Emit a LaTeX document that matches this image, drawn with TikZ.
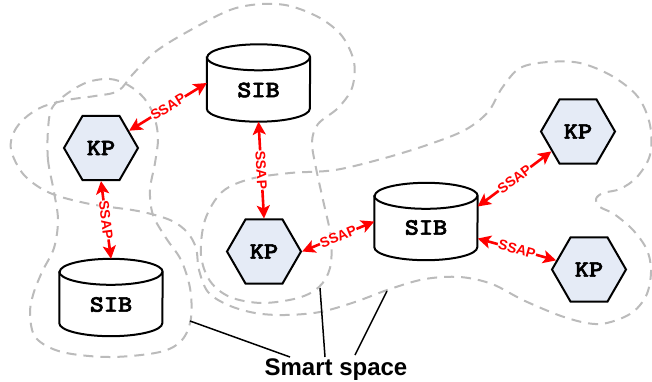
\documentclass[tikz,border=0pt]{standalone}
\usepackage{fontspec}
\newfontfamily\arialfont{Liberation Sans}
\newfontfamily\kpfont{lmmonolt10-bold.otf}[FakeBold=2.5,FakeStretch=1.15]
\usetikzlibrary{shapes.geometric,arrows.meta,calc}
\definecolor{kpfill}{HTML}{E5EBF6}
\definecolor{spacegray}{HTML}{BBBBBB}
\tikzset{
  shapeline/.style={draw=black,line width=2pt},
  kp/.style={regular polygon, regular polygon sides=6, minimum size=74pt, inner sep=0pt,
    draw=black, line width=2pt, fill=kpfill, font=\kpfont\fontsize{23.5}{23.5}\selectfont},
  sib/.style={rectangle, minimum width=103pt, minimum height=77pt, inner sep=0pt},
  sibtext/.style={inner sep=0pt, font=\kpfont\fontsize{23.5}{23.5}\selectfont},
  ssap/.style={red, line width=2.6pt,
    {Stealth[length=13pt,width=13pt,inset=3pt]}-{Stealth[length=13pt,width=13pt,inset=3pt]}},
  ssaplabel/.style={midway, sloped, fill=white, inner sep=0.6pt, text=red,
    font=\arialfont\bfseries\fontsize{14}{14}\selectfont},
  spacecurve/.style={draw=spacegray, line width=2pt, dash pattern=on 10pt off 7pt},
  pointer/.style={draw=black, line width=1.5pt},
}
\newcommand\sibcylinder[1]{%
  \draw[shapeline,fill=white] ($(#1.north west)+(0,13)$) -- ($(#1.south west)+(0,-13)$)
    arc[start angle=180,end angle=360,x radius=51.5pt,y radius=13pt]
    -- ($(#1.north east)+(0,13)$)
    arc[start angle=0,end angle=180,x radius=51.5pt,y radius=13pt] -- cycle;
  \draw[shapeline] ($(#1.north west)+(0,13)$)
    arc[start angle=180,end angle=360,x radius=51.5pt,y radius=13pt];
}
\begin{document}
\begin{tikzpicture}[x=1pt,y=-1pt]
\useasboundingbox (0,0) rectangle (652,381);
% smart space boundaries
\draw[spacecurve] plot[smooth cycle, tension=0.55] coordinates {
  (54,192) (48,160) (48,130) (52,108) (68,93) (88,82) (110,79) (128,85) (144,98)
  (154,116) (158,138) (155,163) (150,190) (153,215) (166,238) (181,260) (190,288)
  (191,318) (182,340) (160,352) (110,357) (62,352) (36,338) (30,315) (33,295)
  (42,272) (54,248) (58,220)};
\draw[spacecurve] plot[smooth cycle, tension=0.55] coordinates {
  (11,150) (14,132) (25,118) (42,107) (67,100) (95,96) (118,91) (133,74) (155,52)
  (187,32) (230,10) (262,4) (290,6) (320,18) (342,36) (354,62) (352,88) (338,108)
  (318,124) (312,142) (316,168) (323,200) (331,238) (330,268) (319,287) (298,298)
  (262,303) (230,297) (210,281) (201,255) (205,220) (222,192) (250,179) (290,173)
  (335,170) (385,158) (430,144) (465,130) (488,112) (502,88) (520,68) (548,62)
  (580,63) (612,76) (638,97) (650,125) (650,155) (637,177) (620,189) (603,193)
  (596,199) (600,207) (614,214) (633,230) (647,250) (651,272) (646,296) (630,314)
  (600,324) (567,318) (525,301) (492,284) (460,277) (425,279) (390,289) (355,302)
  (320,312) (285,315) (255,313) (228,305) (208,292) (199,270) (196,248) (187,232)
  (170,220) (138,211) (90,204) (50,193) (24,175)};
% SIB nodes (cylinders)
\node[sib] (SIB1) at (258.5,83) {};
\node[sib] (SIB2) at (111,297.5) {};
\node[sib] (SIB3) at (426,221.5) {};
\sibcylinder{SIB1}
\sibcylinder{SIB2}
\sibcylinder{SIB3}
\node[sibtext] (SIB1t) at ($(SIB1)+(0,7)$) {SIB};
\node[sibtext] (SIB2t) at ($(SIB2)+(0,7)$) {SIB};
\node[sibtext] (SIB3t) at ($(SIB3)+(0,6)$) {SIB};
% KP nodes
\node[kp] (KP1) at (101,148) {KP};
\node[kp] (KP2) at (264,251.5) {KP};
\node[kp] (KP3) at (578,131.5) {KP};
\node[kp] (KP4) at (589,269.5) {KP};
% SSAP connectors
\draw[ssap] (KP1) -- (SIB1.west) node[ssaplabel] {SSAP};
\draw[ssap] (KP1.south) -- (SIB2.north) node[ssaplabel] {SSAP};
\draw[ssap] (SIB1.south) -- (KP2.north) node[ssaplabel] {SSAP};
\draw[ssap] (KP2.east) -- (SIB3.west) node[ssaplabel] {SSAP};
\draw[ssap] ($(SIB3.east)+(0,-15)$) -- (KP3) node[ssaplabel] {SSAP};
\draw[ssap] ($(SIB3.east)+(0,17)$) -- (KP4) node[ssaplabel] {SSAP};
% caption
\node[anchor=base, font=\arialfont\bfseries\fontsize{24}{24}\selectfont] (ss) at (336,375.5) {Smart space};
\coordinate (c1) at (190,321);
\coordinate (c2) at (320,288);
\coordinate (c3) at (387,291);
\coordinate (t1) at (290,357);
\coordinate (t2) at (325,357);
\coordinate (t3) at (355,355);
\draw[pointer] (c1) -- (t1);
\draw[pointer] (c2) -- (t2);
\draw[pointer] (c3) -- (t3);
\end{tikzpicture}
\end{document}
